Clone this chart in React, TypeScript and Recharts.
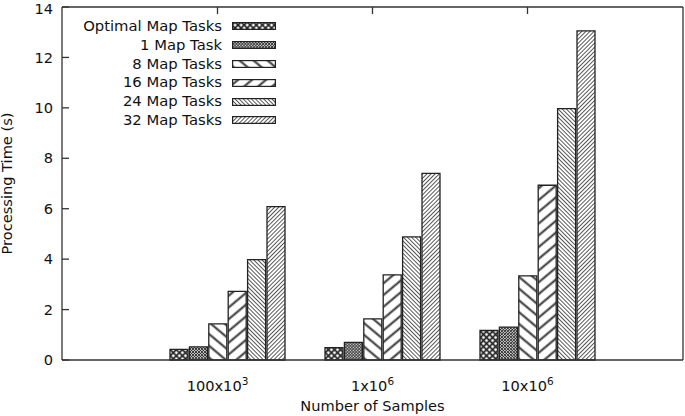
import { BarChart, Bar, XAxis, YAxis, Legend, Label } from 'recharts';

const FONT = '"DejaVu Sans", sans-serif';
const INK = '#222';
const FS = 14.6;

// processing time (s) per sample size
const categories = ['100x10^3', '1x10^6', '10x10^6'];
const optimalMapTasks = [0.42, 0.49, 1.17];
const oneMapTask = [0.52, 0.7, 1.3];
const eightMapTasks = [1.43, 1.63, 3.34];
const sixteenMapTasks = [2.72, 3.38, 6.93];
const twentyFourMapTasks = [3.98, 4.88, 9.97];
const thirtyTwoMapTasks = [6.08, 7.4, 13.05];
const yTicks = [0, 2, 4, 6, 8, 10, 12, 14];

const series = [
  { key: 'opt', name: 'Optimal Map Tasks', values: optimalMapTasks, pattern: 'pat-opt' },
  { key: 'm1', name: '1 Map Task', values: oneMapTask, pattern: 'pat-m1' },
  { key: 'm8', name: '8 Map Tasks', values: eightMapTasks, pattern: 'pat-m8' },
  { key: 'm16', name: '16 Map Tasks', values: sixteenMapTasks, pattern: 'pat-m16' },
  { key: 'm24', name: '24 Map Tasks', values: twentyFourMapTasks, pattern: 'pat-m24' },
  { key: 'm32', name: '32 Map Tasks', values: thirtyTwoMapTasks, pattern: 'pat-m32' },
];

const data = categories.map((name, i) => {
  const row: any = { name };
  series.forEach(s => (row[s.key] = s.values[i]));
  return row;
});

// hatch: parallel lines, spacing d, rotated by angle
const Hatch = ({ id, d, angle, width, color }: any) => (
  <pattern id={id} patternUnits="userSpaceOnUse" width={d} height={10} patternTransform={`rotate(${angle})`}>
    <rect width={d} height={10} fill="#fff" />
    <line x1={d / 2} y1={0} x2={d / 2} y2={10} stroke={color} strokeWidth={width} />
  </pattern>
);

const Cross = ({ id, d, width, color }: any) => (
  <pattern id={id} patternUnits="userSpaceOnUse" width={d} height={d} patternTransform="rotate(45)">
    <rect width={d} height={d} fill="#fff" />
    <line x1={d / 2} y1={0} x2={d / 2} y2={d} stroke={color} strokeWidth={width} />
    <line x1={0} y1={d / 2} x2={d} y2={d / 2} stroke={color} strokeWidth={width} />
  </pattern>
);

const SampleTick = ({ x, y, payload }: any) => {
  const [base, exp] = String(payload.value).split('^');
  return (
    <text x={x} y={y} dy={10} textAnchor="middle" fontSize={FS} fill="#111" fontFamily={FONT}>
      {base}
      <tspan dy={-6} fontSize={10.5}>{exp}</tspan>
    </text>
  );
};

const NoTick = () => <g />;

const LegendBox = () => (
  <div style={{ fontFamily: FONT, fontSize: 14.8, color: '#111' }}>
    {series.map(s => (
      <div key={s.key} style={{ display: 'flex', justifyContent: 'flex-end', alignItems: 'center', height: 18.8 }}>
        <span style={{ marginRight: 10, lineHeight: '18.8px', whiteSpace: 'nowrap' }}>{s.name}</span>
        <svg width={44} height={8} style={{ display: 'block' }}>
          <rect x={0.6} y={0.6} width={42.8} height={6.8} fill={`url(#${s.pattern})`} stroke={INK} strokeWidth={1.2} />
        </svg>
      </div>
    ))}
  </div>
);

export default function App() {
  return (
    <div style={{ position: 'absolute', left: 0, top: 0, width: 685, height: 416, background: '#fff' }}>
      <BarChart
        width={685}
        height={416}
        data={data}
        margin={{ top: 7, right: 2, left: 0, bottom: 0 }}
        barSize={18}
        barGap={1.4}
        style={{ fontFamily: FONT }}
      >
        <defs>
          <Cross id="pat-opt" d={4.3} width={1.7} color={INK} />
          <Cross id="pat-m1" d={2.1} width={0.9} color="#333" />
          <Hatch id="pat-m8" d={9} angle={-50} width={2} color="#333" />
          <Hatch id="pat-m16" d={9} angle={50} width={2} color="#333" />
          <Hatch id="pat-m24" d={2.9} angle={-45} width={1} color="#555" />
          <Hatch id="pat-m32" d={2.9} angle={45} width={1} color="#555" />
        </defs>
        <XAxis
          xAxisId="labels"
          dataKey="name"
          height={56}
          padding={{ left: 78, right: 78 }}
          tickLine={false}
          tickMargin={15}
          tick={<SampleTick />}
          stroke="#333"
          strokeWidth={1.3}
        >
          <Label
            content={({ viewBox }: any) => (
              <text x={viewBox.x + viewBox.width / 2} y={411} textAnchor="middle" fontSize={FS} fill="#111" fontFamily={FONT}>
                Number of Samples
              </text>
            )}
          />
        </XAxis>
        <XAxis xAxisId="bars" dataKey="name" hide height={0} padding={{ left: 88, right: 68 }} />
        <XAxis
          xAxisId="top"
          orientation="top"
          dataKey="name"
          height={1}
          padding={{ left: 78, right: 78 }}
          mirror
          tickSize={7}
          tick={NoTick}
          stroke="#333"
          strokeWidth={1.3}
        />
        <YAxis
          width={62}
          domain={[0, 14]}
          ticks={yTicks}
          tickSize={-7}
          tickMargin={16}
          tick={{ fill: '#111', fontSize: FS }}
          stroke="#333"
          strokeWidth={1.3}
        >
          <Label
            content={({ viewBox }: any) => {
              const cx = 12;
              const cy = viewBox.y + viewBox.height / 2;
              return (
                <text x={cx} y={cy} transform={`rotate(-90, ${cx}, ${cy})`} textAnchor="middle" fontSize={FS} fill="#111" fontFamily={FONT}>
                  Processing Time (s)
                </text>
              );
            }}
          />
        </YAxis>
        <YAxis
          yAxisId="right"
          orientation="right"
          width={1}
          domain={[0, 14]}
          ticks={yTicks}
          mirror
          tickSize={7}
          tick={NoTick}
          stroke="#333"
          strokeWidth={1.3}
        />
        <Legend
          layout="vertical"
          align="center"
          verticalAlign="middle"
          wrapperStyle={{ left: 0, top: 17, width: 276 }}
          content={() => <LegendBox />}
        />
        {series.map(s => (
          <Bar
            key={s.key}
            xAxisId="bars"
            dataKey={s.key}
            name={s.name}
            fill={`url(#${s.pattern})`}
            stroke={INK}
            strokeWidth={1.3}
            isAnimationActive={false}
          />
        ))}
      </BarChart>
    </div>
  );
}
